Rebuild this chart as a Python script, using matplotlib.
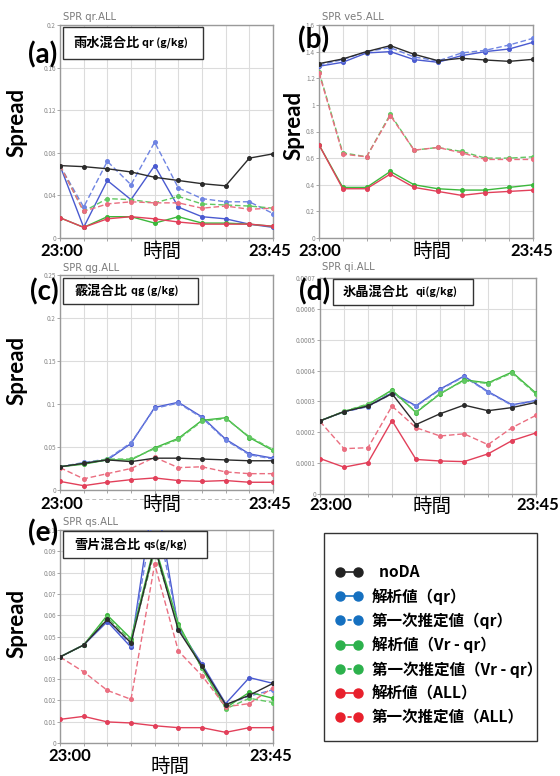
import numpy as np
import matplotlib
matplotlib.use("Agg")
import matplotlib.pyplot as plt
from matplotlib.lines import Line2D
from matplotlib.patches import Rectangle
from matplotlib.ticker import FuncFormatter, FixedLocator

plt.rcParams['font.family'] = ['Noto Sans CJK JP', 'DejaVu Sans']

# ---------------- data ----------------
times = ["23:00", "23:05", "23:10", "23:15", "23:20", "23:25", "23:30", "23:35", "23:40", "23:45"]

series_labels = ["  noDA", "解析値（qr）", "第一次推定値（qr）", "解析値（Vr - qr）",
                 "第一次推定値（Vr - qr）", "解析値（ALL）", "第一次推定値（ALL）"]

# (a) qr
qr_noda = [0.068, 0.067, 0.065, 0.062, 0.057, 0.054, 0.051, 0.049, 0.075, 0.079]
qr_ana_qr = [0.068, 0.010, 0.054, 0.036, 0.068, 0.029, 0.020, 0.018, 0.013, 0.010]
qr_fg_qr = [0.068, 0.029, 0.072, 0.050, 0.090, 0.047, 0.037, 0.034, 0.034, 0.023]
qr_ana_vrqr = [0.019, 0.010, 0.020, 0.020, 0.014, 0.020, 0.014, 0.014, 0.013, 0.011]
qr_fg_vrqr = [0.068, 0.025, 0.037, 0.036, 0.033, 0.039, 0.032, 0.031, 0.030, 0.028]
qr_ana_all = [0.019, 0.010, 0.018, 0.020, 0.018, 0.015, 0.013, 0.013, 0.013, 0.011]
qr_fg_all = [0.068, 0.025, 0.032, 0.034, 0.033, 0.033, 0.028, 0.030, 0.027, 0.028]

# (b) ve5
ve_noda = [1.31, 1.345, 1.40, 1.445, 1.38, 1.332, 1.35, 1.337, 1.327, 1.342]
ve_ana_qr = [1.29, 1.32, 1.39, 1.40, 1.34, 1.32, 1.37, 1.40, 1.42, 1.47]
ve_fg_qr = [1.30, 1.34, 1.40, 1.43, 1.36, 1.33, 1.39, 1.41, 1.45, 1.50]
ve_ana_vrqr = [0.70, 0.38, 0.38, 0.50, 0.40, 0.37, 0.36, 0.36, 0.38, 0.40]
ve_fg_vrqr = [1.25, 0.64, 0.61, 0.93, 0.66, 0.68, 0.65, 0.60, 0.60, 0.61]
ve_ana_all = [0.70, 0.37, 0.37, 0.48, 0.38, 0.35, 0.32, 0.34, 0.35, 0.36]
ve_fg_all = [1.24, 0.63, 0.61, 0.92, 0.66, 0.68, 0.64, 0.59, 0.59, 0.59]

# (c) qg
qg_noda = [0.027, 0.031, 0.035, 0.033, 0.037, 0.037, 0.036, 0.035, 0.034, 0.034]
qg_ana_qr = [0.027, 0.031, 0.035, 0.054, 0.096, 0.102, 0.085, 0.059, 0.042, 0.037]
qg_fg_qr = [0.027, 0.032, 0.036, 0.055, 0.095, 0.101, 0.084, 0.058, 0.041, 0.036]
qg_ana_vrqr = [0.027, 0.030, 0.035, 0.035, 0.049, 0.060, 0.081, 0.084, 0.061, 0.046]
qg_fg_vrqr = [0.027, 0.031, 0.036, 0.036, 0.048, 0.059, 0.080, 0.083, 0.062, 0.047]
qg_ana_all = [0.010, 0.005, 0.009, 0.012, 0.014, 0.011, 0.010, 0.011, 0.009, 0.009]
qg_fg_all = [0.026, 0.013, 0.019, 0.025, 0.038, 0.026, 0.027, 0.021, 0.019, 0.019]

# (d) qi
qi_noda = [0.000237, 0.000267, 0.000285, 0.000325, 0.000225, 0.000260, 0.000288, 0.000270, 0.000280, 0.000297]
qi_ana_qr = [0.000237, 0.000267, 0.000285, 0.000328, 0.000286, 0.000340, 0.000382, 0.000332, 0.000289, 0.000303]
qi_fg_qr = [0.000237, 0.000266, 0.000283, 0.000325, 0.000284, 0.000338, 0.000380, 0.000330, 0.000287, 0.000302]
qi_ana_vrqr = [0.000237, 0.000267, 0.000290, 0.000337, 0.000264, 0.000324, 0.000370, 0.000360, 0.000395, 0.000327]
qi_fg_vrqr = [0.000237, 0.000268, 0.000292, 0.000333, 0.000266, 0.000326, 0.000367, 0.000358, 0.000392, 0.000324]
qi_ana_all = [0.000115, 0.000087, 0.000102, 0.000238, 0.000112, 0.000107, 0.000105, 0.000130, 0.000173, 0.000198]
qi_fg_all = [0.000235, 0.000147, 0.000150, 0.000285, 0.000215, 0.000188, 0.000195, 0.000160, 0.000215, 0.000255]

# (e) qs
qs_noda = [0.0404, 0.046, 0.058, 0.047, 0.092, 0.053, 0.036, 0.018, 0.0224, 0.028]
qs_ana_qr = [0.0404, 0.046, 0.057, 0.045, 0.120, 0.054, 0.037, 0.0185, 0.0307, 0.028]
qs_fg_qr = [0.0404, 0.046, 0.058, 0.046, 0.110, 0.055, 0.036, 0.018, 0.022, 0.025]
qs_ana_vrqr = [0.0404, 0.046, 0.060, 0.049, 0.093, 0.056, 0.035, 0.0165, 0.0238, 0.021]
qs_fg_vrqr = [0.0404, 0.046, 0.059, 0.048, 0.090, 0.055, 0.035, 0.016, 0.021, 0.019]
qs_ana_all = [0.0111, 0.0125, 0.0099, 0.0094, 0.0081, 0.0072, 0.0072, 0.0050, 0.0072, 0.0072]
qs_fg_all = [0.0404, 0.0334, 0.0247, 0.0205, 0.084, 0.0432, 0.0316, 0.017, 0.0185, 0.026]

panels = [
    dict(tag="(a)", spr="SPR qr.ALL", jp="雨水混合比", unit="qr (g/kg)",
         data=[qr_noda, qr_ana_qr, qr_fg_qr, qr_ana_vrqr, qr_fg_vrqr, qr_ana_all, qr_fg_all],
         yticks=[0, 0.04, 0.08, 0.12, 0.16, 0.2]),
    dict(tag="(b)", spr="SPR ve5.ALL", jp=None, unit=None,
         data=[ve_noda, ve_ana_qr, ve_fg_qr, ve_ana_vrqr, ve_fg_vrqr, ve_ana_all, ve_fg_all],
         yticks=[0, 0.2, 0.4, 0.6, 0.8, 1.0, 1.2, 1.4, 1.6]),
    dict(tag="(c)", spr="SPR qg.ALL", jp="霰混合比", unit="qg (g/kg)",
         data=[qg_noda, qg_ana_qr, qg_fg_qr, qg_ana_vrqr, qg_fg_vrqr, qg_ana_all, qg_fg_all],
         yticks=[0, 0.05, 0.1, 0.15, 0.2, 0.25]),
    dict(tag="(d)", spr="SPR qi.ALL", jp="氷晶混合比", unit="qi(g/kg)",
         data=[qi_noda, qi_ana_qr, qi_fg_qr, qi_ana_vrqr, qi_fg_vrqr, qi_ana_all, qi_fg_all],
         yticks=[0, 0.0001, 0.0002, 0.0003, 0.0004, 0.0005, 0.0006, 0.0007]),
    dict(tag="(e)", spr="SPR qs.ALL", jp="雪片混合比", unit="qs(g/kg)",
         data=[qs_noda, qs_ana_qr, qs_fg_qr, qs_ana_vrqr, qs_fg_vrqr, qs_ana_all, qs_fg_all],
         yticks=[0, 0.01, 0.02, 0.03, 0.04, 0.05, 0.06, 0.07, 0.08, 0.09, 0.1]),
]

# ---------------- layout (pixels) ----------------
W, H = 560, 776
def fx(x): return x / W
def fy(y): return 1 - y / H

layout = [
    dict(ax=(60, 25, 273, 238), tag=(43, 55), spr=(63, 17), box=(63, 27, 203, 59), jpx=73, unitx=142,
         spread=(17, 122), tl_y=251, jk=(162, 251), t0x=62, t1x=270),
    dict(ax=(319, 25, 533, 238), tag=(314, 40), spr=(322, 17), box=None, jpx=None, unitx=None,
         spread=(294, 125), tl_y=251, jk=(432, 251), t0x=320, t1x=532),
    dict(ax=(60, 275, 273, 490), tag=(44, 292), spr=(63, 268), box=(63, 278, 198, 304), jpx=74, unitx=131,
         spread=(17, 370), tl_y=504, jk=(162, 504), t0x=62, t1x=270),
    dict(ax=(320, 278, 536, 494), tag=(315, 292), spr=(322, 267), box=(333, 279, 473, 305), jpx=343, unitx=415,
         spread=None, tl_y=505, jk=(432, 506), t0x=331, t1x=538),
    dict(ax=(60, 530, 273, 743), tag=(43, 533), spr=(63, 522), box=(63, 531, 207, 558), jpx=74, unitx=143,
         spread=(17, 623), tl_y=756, jk=(170, 766), t0x=70, t1x=271),
]

plot_styles = [
    ('#2b2b2b', '-'),
    ('#4a5ad0', '-'),
    ('#6f84e2', '--'),
    ('#3cb83c', '-'),
    ('#62c862', '--'),
    ('#e2405a', '-'),
    ('#ea6e80', '--'),
]
legend_colors = ['#222222', '#1570c0', '#1570c0', '#2cb14c', '#2cb14c', '#e8202c', '#e8202c']

fig = plt.figure(figsize=(W / 100, H / 100), dpi=100)
x = np.arange(len(times))

latin_bold = dict(family=['Lato', 'DejaVu Sans'], fontweight='bold')

for p, lay in zip(panels, layout):
    l, t, r, b = lay['ax']
    ax = fig.add_axes([fx(l), fy(b), (r - l) / W, (b - t) / H])
    order = [1, 2, 3, 4, 5, 6, 0]
    for i in order:
        c, ls = plot_styles[i]
        ax.plot(x, p['data'][i], color=c, ls=ls, lw=1.0, marker='o', ms=2.6,
                dashes=(4, 2) if ls == '--' else (None, None), zorder=3 if i else 4)
    ax.set_xlim(0, len(times) - 1)
    ax.set_ylim(p['yticks'][0], p['yticks'][-1])
    ax.xaxis.set_major_locator(FixedLocator(x))
    ax.set_xticklabels([])
    ax.set_yticks(p['yticks'])
    ax.yaxis.set_major_formatter(FuncFormatter(lambda v, pos: '%g' % v))
    ax.tick_params(axis='y', labelsize=4.6, labelcolor='#888888', length=2, width=0.6, color='#999999', pad=1)
    ax.tick_params(axis='x', length=2.5, width=0.6, color='#999999')
    ax.grid(True, color='#dcdcdc', lw=0.8)
    ax.set_axisbelow(True)
    for s in ax.spines.values():
        s.set_color('#9a9a9a')
        s.set_linewidth(1.0)

    fig.text(fx(lay['spr'][0]), fy(lay['spr'][1]), p['spr'], fontsize=7.2, color='#7a7a7a',
             family=['DejaVu Sans'], va='center', ha='left')
    fig.text(fx(lay['tag'][0]), fy(lay['tag'][1]), p['tag'], fontsize=20, ha='center', va='center',
             color='black', **latin_bold)
    if lay['box'] is not None:
        bl, bt, br, bb = lay['box']
        fig.patches.append(Rectangle((fx(bl), fy(bb)), (br - bl) / W, (bb - bt) / H,
                                     transform=fig.transFigure, facecolor='white',
                                     edgecolor='#333333', lw=1.0, zorder=5))
        cy = (bt + bb) / 2
        fig.text(fx(lay['jpx']), fy(cy), p['jp'], fontsize=9.5, fontweight='bold',
                 ha='left', va='center', zorder=6)
        fig.text(fx(lay['unitx']), fy(cy + 0.5), p['unit'], fontsize=7.8, fontweight='bold',
                 ha='left', va='center', zorder=6)
    if lay['spread'] is not None:
        fig.text(fx(lay['spread'][0]), fy(lay['spread'][1]), 'Spread', fontsize=16, rotation=90,
                 ha='center', va='center', **latin_bold)
    fig.text(fx(lay['t0x']), fy(lay['tl_y']), times[0], fontsize=12, ha='center', va='center', **latin_bold)
    fig.text(fx(lay['t1x']), fy(lay['tl_y']), times[-1], fontsize=12, ha='center', va='center', **latin_bold)
    fig.text(fx(lay['jk'][0]), fy(lay['jk'][1]), '時間', fontsize=14, ha='center', va='center')

# faint dashed artefact line under panel (c)
fig.lines.append(Line2D([fx(85), fx(272)], [fy(499), fy(499)], transform=fig.transFigure,
                        color='#bbbbbb', lw=0.7, ls=(0, (4, 3))))

# legend box
fig.patches.append(Rectangle((fx(324), fy(741)), (537 - 324) / W, (741 - 533) / H,
                             transform=fig.transFigure, facecolor='white', edgecolor='#333333', lw=1.0))
handles = []
for i in range(7):
    ls = '-' if i in (0, 1, 3, 5) else (0, (2.5, 2))
    handles.append(Line2D([], [], color=legend_colors[i], ls=ls, lw=1.2, marker='o', ms=6.5))
leg = fig.legend(handles, series_labels, loc='upper left', bbox_to_anchor=(fx(335), fy(564)),
                 frameon=False, borderpad=0, borderaxespad=0, handlelength=1.8, handletextpad=0.55,
                 labelspacing=0.5, numpoints=2, prop=dict(family=['Noto Sans CJK JP', 'DejaVu Sans'],
                                                          weight='bold', size=11.2))

fig.savefig('out.png', dpi=100)
